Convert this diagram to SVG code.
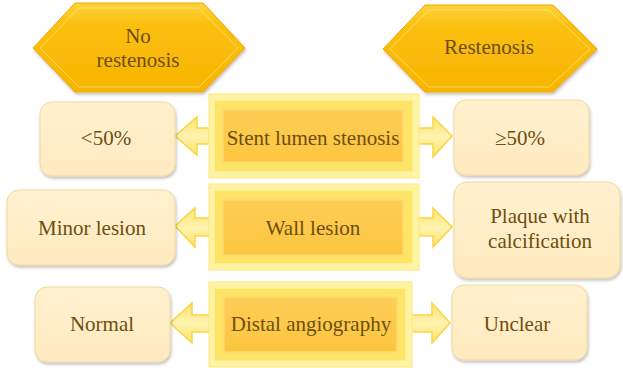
<svg xmlns="http://www.w3.org/2000/svg" width="623" height="368" viewBox="0 0 623 368">
<defs>
<linearGradient id="hexG" x1="0" y1="0" x2="0" y2="1">
<stop offset="0" stop-color="#fdd33a"/>
<stop offset="0.25" stop-color="#fbbf10"/>
<stop offset="1" stop-color="#f8b400"/>
</linearGradient>
<linearGradient id="boxG" x1="0" y1="0" x2="0" y2="1">
<stop offset="0" stop-color="#fff1cf"/>
<stop offset="1" stop-color="#ffeac0"/>
</linearGradient>
<linearGradient id="innerG" x1="0" y1="0" x2="0" y2="1">
<stop offset="0" stop-color="#fdce55"/>
<stop offset="1" stop-color="#fcc540"/>
</linearGradient>
<linearGradient id="arrG" x1="0" y1="0" x2="0" y2="1">
<stop offset="0" stop-color="#fde36a"/>
<stop offset="0.5" stop-color="#fff3b0"/>
<stop offset="1" stop-color="#fde36a"/>
</linearGradient>
<filter id="sh" x="-10%" y="-10%" width="120%" height="130%">
<feDropShadow dx="1" dy="2" stdDeviation="1.5" flood-color="#000" flood-opacity="0.25"/>
</filter>
</defs>
<style>
.t{font-family:'Liberation Serif','DejaVu Serif','Times New Roman',serif;font-size:21px;fill:#6e4e10;text-anchor:middle}
.hex{fill:url(#hexG);stroke:#f0a800;stroke-width:1}
.bev{fill:none;stroke:#fde36a;stroke-width:1;opacity:0.8}
.box{fill:url(#boxG);stroke:#f2d99a;stroke-width:1}
.outer{fill:#fff3a6;stroke:#fde878;stroke-width:1}
.mid{fill:#fde466;stroke:#fff2a0;stroke-width:1.5}
.inner{fill:url(#innerG);stroke:#fdd970;stroke-width:1.5}
.arr{fill:url(#arrG);stroke:#f8d645;stroke-width:1.5;stroke-linejoin:miter}
</style>

<g id="connectors">
<path class="arr" d="M211,128 L197,128 L197,117 L175,136 L197,155 L197,144 L211,144 Z"/>
<path class="arr" d="M417,128 L433,128 L433,117 L452,136 L433,157 L433,144 L417,144 Z"/>
<path class="arr" d="M211,218 L195,218 L195,208 L175,226 L195,247 L195,236 L211,236 Z"/>
<path class="arr" d="M417,218 L433,218 L433,208 L452,227 L433,247 L433,236 L417,236 Z"/>
<path class="arr" d="M211,315 L192,315 L192,303 L170,323 L192,343 L192,332 L211,332 Z"/>
<path class="arr" d="M411,315 L432,315 L432,303 L450,323 L432,343 L432,332 L411,332 Z"/>
</g>

<g id="no-restenosis">
<polygon class="hex" filter="url(#sh)" points="33,48 75,3 203,3 245,48 203,92 75,92"/>
<polygon class="bev" points="40,48 79,8 199,8 238,48 199,87 79,87"/>
<text class="t" x="138" y="43">No</text>
<text class="t" x="138" y="67">restenosis</text>
</g>

<g id="restenosis">
<polygon class="hex" filter="url(#sh)" points="383,49 425,5 553,5 597,49 553,92 425,92"/>
<polygon class="bev" points="390,49 429,10 549,10 590,49 549,87 429,87"/>
<text class="t" x="489" y="54">Restenosis</text>
</g>

<g id="stent-lumen-stenosis">
<rect class="outer" x="209" y="94" width="210" height="84"/>
<rect class="mid" x="214" y="100" width="199" height="72"/>
<rect class="inner" x="223" y="110" width="180" height="52"/>
<text class="t" x="313" y="145">Stent lumen stenosis</text>
</g>

<g id="lt50">
<rect class="box" filter="url(#sh)" x="40" y="102" width="135" height="74" rx="12"/>
<text class="t" x="106" y="145">&lt;50%</text>
</g>

<g id="ge50">
<rect class="box" filter="url(#sh)" x="454" y="100" width="135" height="75" rx="12"/>
<text class="t" x="520" y="145">≥50%</text>
</g>

<g id="wall-lesion">
<rect class="outer" x="209" y="184" width="210" height="86"/>
<rect class="mid" x="214" y="190" width="199" height="74"/>
<rect class="inner" x="223" y="200" width="180" height="55"/>
<text class="t" x="313" y="235">Wall lesion</text>
</g>

<g id="minor-lesion">
<rect class="box" filter="url(#sh)" x="7" y="190" width="168" height="75" rx="12"/>
<text class="t" x="92" y="235">Minor lesion</text>
</g>

<g id="plaque">
<rect class="box" filter="url(#sh)" x="454" y="182" width="166" height="96" rx="13"/>
<text class="t" x="540" y="223">Plaque with</text>
<text class="t" x="540" y="248">calcification</text>
</g>

<g id="distal-angiography">
<rect class="outer" x="209" y="282" width="203" height="85"/>
<rect class="mid" x="214" y="288" width="192" height="73"/>
<rect class="inner" x="224" y="297" width="173" height="55"/>
<text class="t" x="311" y="331">Distal angiography</text>
</g>

<g id="normal">
<rect class="box" filter="url(#sh)" x="35" y="287" width="135" height="75" rx="12"/>
<text class="t" x="102" y="331">Normal</text>
</g>

<g id="unclear">
<rect class="box" filter="url(#sh)" x="452" y="285" width="135" height="75" rx="12"/>
<text class="t" x="517" y="331">Unclear</text>
</g>
</svg>
